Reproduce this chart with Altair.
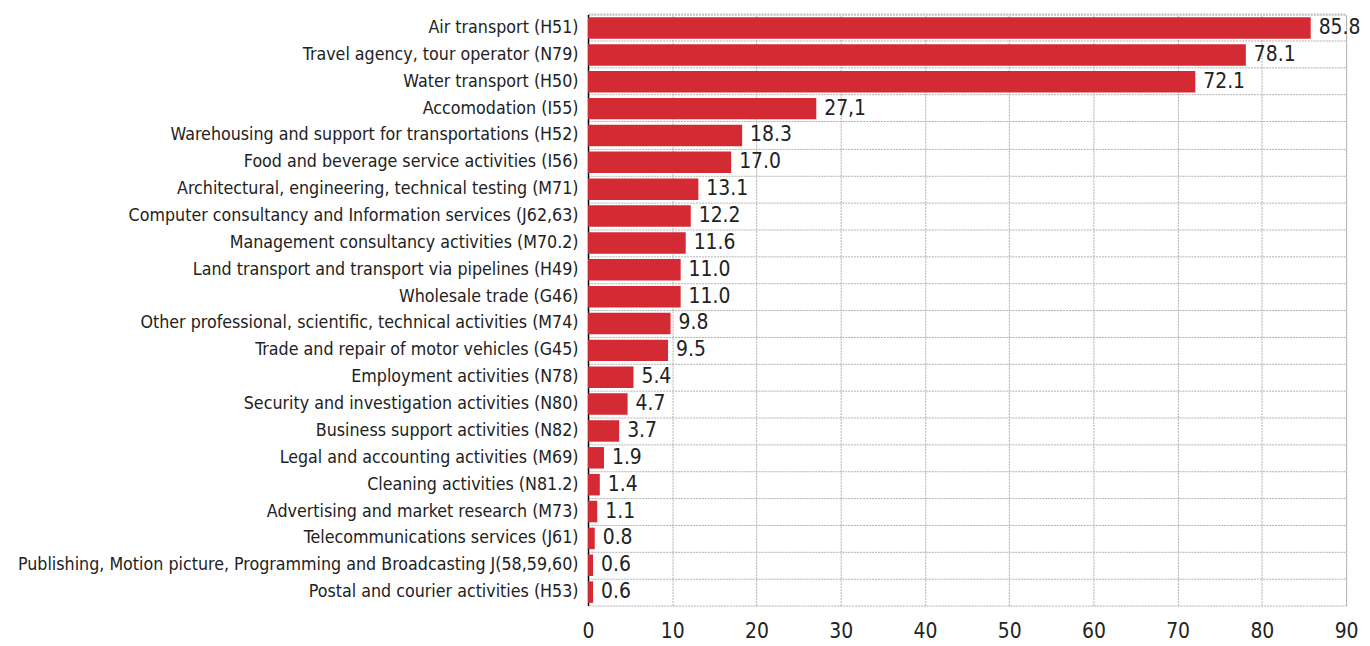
import altair as alt
import pandas as pd

categories = [
    "Air  transport (H51)",
    "Travel agency, tour operator (N79)",
    "Water  transport (H50)",
    "Accomodation (I55)",
    "Warehousing and support  for transportations (H52)",
    "Food and beverage service activities (I56)",
    "Architectural, engineering, technical testing (M71)",
    "Computer consultancy and Information services (J62,63)",
    "Management consultancy activities (M70.2)",
    "Land transport and transport via pipelines (H49)",
    "Wholesale trade (G46)",
    "Other professional, scientific, technical activities (M74)",
    "Trade and repair of motor vehicles (G45)",
    "Employment activities (N78)",
    "Security and investigation activities (N80)",
    "Business support activities (N82)",
    "Legal and accounting activities (M69)",
    "Cleaning activities (N81.2)",
    "Advertising and market research (M73)",
    "Telecommunications services (J61)",
    "Publishing, Motion picture, Programming and Broadcasting J(58,59,60)",
    "Postal and courier activities (H53)",
]
values = [85.8, 78.1, 72.1, 27.1, 18.3, 17.0, 13.1, 12.2, 11.6, 11.0, 11.0,
          9.8, 9.5, 5.4, 4.7, 3.7, 1.9, 1.4, 1.1, 0.8, 0.6, 0.6]
value_labels = ["85.8", "78.1", "72.1", "27,1", "18.3", "17.0", "13.1", "12.2",
                "11.6", "11.0", "11.0", "9.8", "9.5", "5.4", "4.7", "3.7",
                "1.9", "1.4", "1.1", "0.8", "0.6", "0.6"]
x_ticks = [0, 10, 20, 30, 40, 50, 60, 70, 80, 90]

df = pd.DataFrame({"cat": categories, "val": values, "lab": value_labels})

FONT = "DejaVu Sans Condensed, sans-serif"

y_enc = alt.Y(
    "cat:N", sort=categories, title=None,
    scale=alt.Scale(paddingInner=0.2, paddingOuter=0.1),
    axis=alt.Axis(
        domain=True, domainColor="#000000", domainWidth=1.5,
        ticks=False, labelPadding=10, labelFontSize=17.8, labelFont=FONT,
        labelColor="#222222", labelLimit=700,
        grid=True, gridColor="#b0b0b0", gridDash=[2, 1], gridWidth=1,
        bandPosition=-0.125,
    ),
)
x_enc = alt.X(
    "val:Q", title=None,
    scale=alt.Scale(domain=[0, 90], nice=False),
    axis=alt.Axis(
        values=x_ticks, domain=False, ticks=False, labelPadding=15,
        labelFontSize=21, labelFont=FONT, labelColor="#222222",
        grid=True, gridColor="#b0b0b0", gridDash=[2, 1], gridWidth=1,
        labelFlush=False,
    ),
)

bars = alt.Chart(df).mark_bar(color="#D42A33").encode(x=x_enc, y=y_enc)
texts = alt.Chart(df).mark_text(
    align="left", baseline="middle", dx=8, fontSize=21, font=FONT, color="#222222"
).encode(x=alt.X("val:Q"), y=alt.Y("cat:N", sort=categories), text="lab:N")

chart = (bars + texts).properties(
    width=762, height=594,
    autosize=alt.AutoSizeParams(type="none"),
    padding={"left": 583, "top": 5, "right": 16, "bottom": 36},
).configure_view(stroke="#b0b0b0", strokeDash=[2, 1], strokeWidth=1)

chart.save("out.html", embed_options={"renderer": "svg", "actions": False})
